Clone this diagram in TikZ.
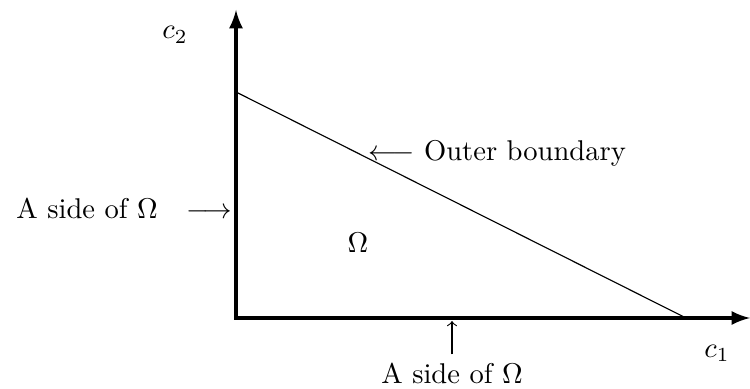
\documentclass[tikz,border=0pt]{standalone}
\usepackage{tikz}
\usetikzlibrary{arrows, positioning}

\begin{document}
\begin{tikzpicture}[x=0.35pt, y=-0.35pt]
        \useasboundingbox (0,0) rectangle (750,389);
        \coordinate (origin) at (236,318);
        \coordinate (ytop) at (236,10);
        \coordinate (xend) at (750,318);
        \coordinate (ycut) at (236,92);
        \coordinate (xcut) at (686,318);
        \draw[line width=1.2pt, -latex] (origin) -- (ytop);
        \draw[line width=1.2pt, -latex] ([xshift=-0.6pt]origin) -- (xend);
        \draw (ycut) -- (xcut);
        \node (c2) at (175,35) {$c_2$};
        \node (c1) at (717,353) {$c_1$};
        \node[anchor=west, inner sep=0pt] (outer) at (368,153) {$\longleftarrow$ Outer boundary};
        \node[anchor=east, inner sep=0pt] (leftside) at (233,208) {A side of $\Omega$\quad$\longrightarrow$};
        \node (omega) at (358,243) {$\Omega$};
        \node[anchor=base, inner sep=0pt] (bottomside) at (452,384) {A side of $\Omega$};
        \coordinate (bottomtip) at (452,321);
        \draw[-to] ([yshift=3pt]bottomside.north) -- (bottomtip);
    \end{tikzpicture}
\end{document}
